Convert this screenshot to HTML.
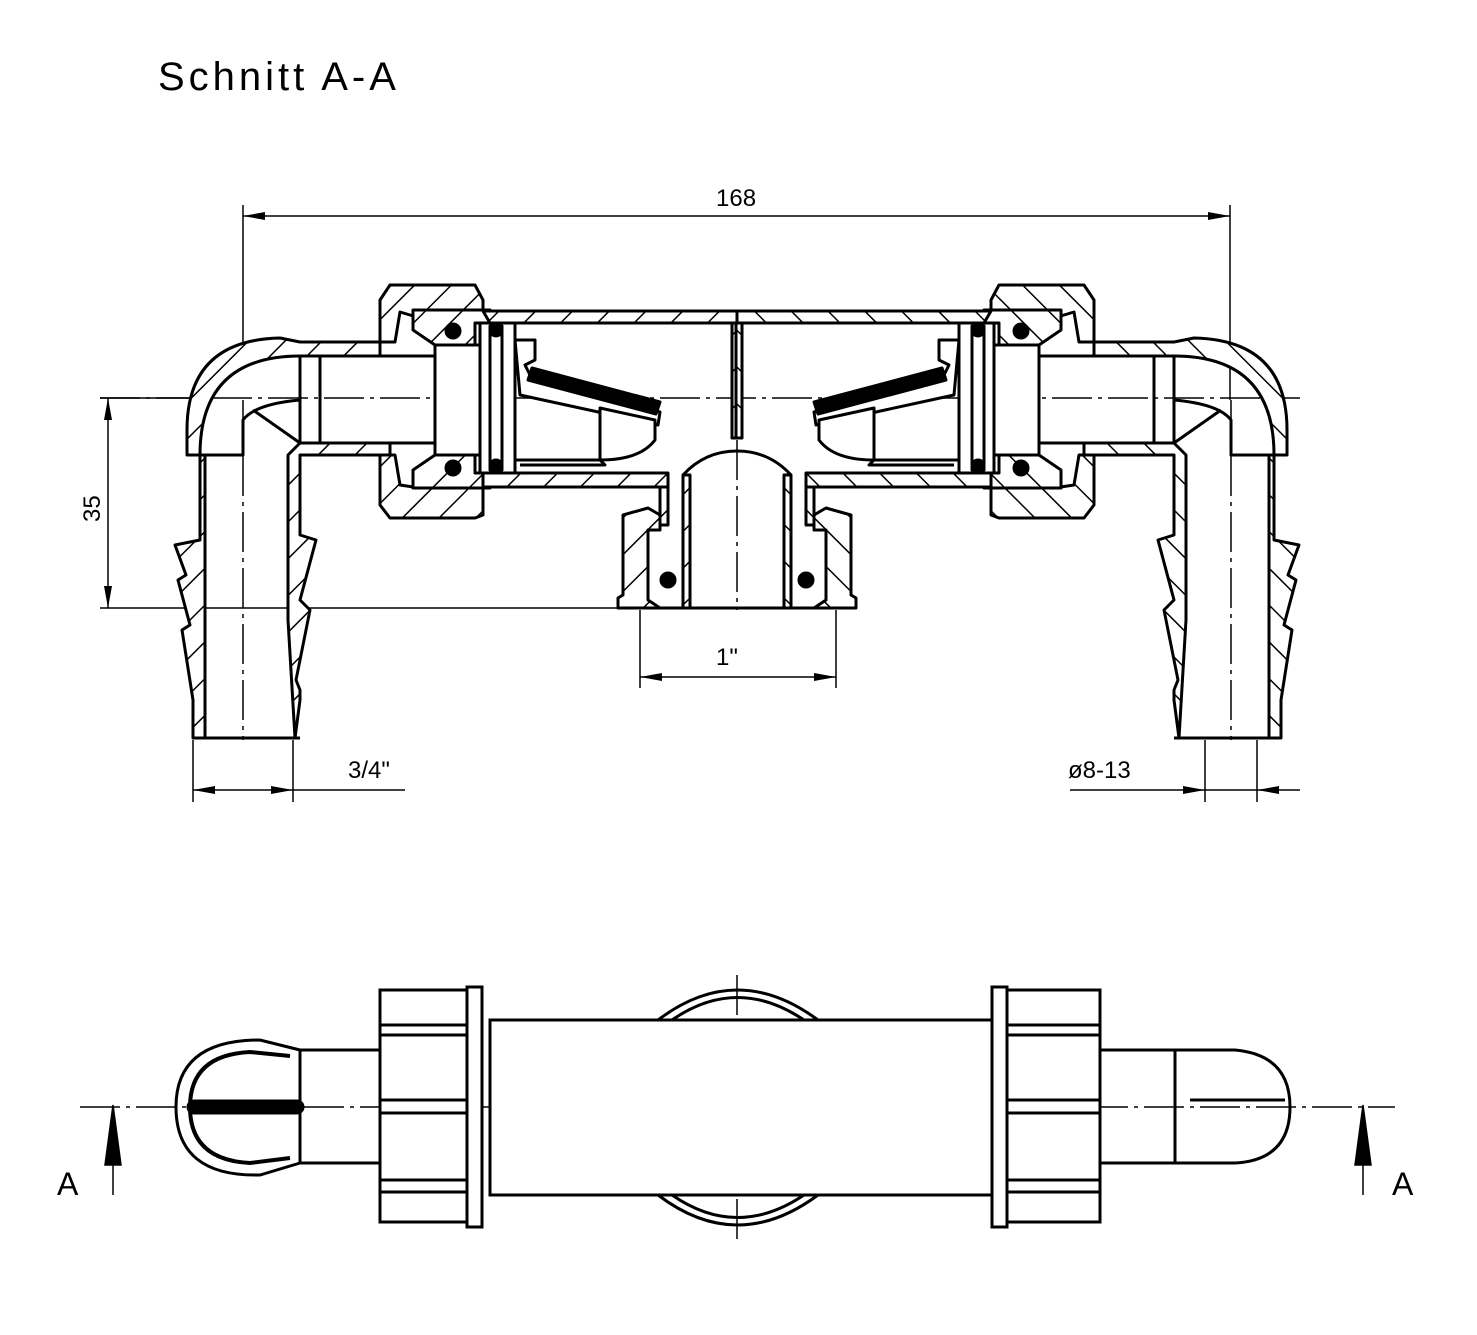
<!DOCTYPE html>
<html><head><meta charset="utf-8"><style>
html,body{margin:0;padding:0;background:#fff}
svg{display:block}
text{font-family:"Liberation Sans",sans-serif;fill:#000}
</style></head><body>
<svg width="1477" height="1335" viewBox="0 0 1477 1335" xmlns="http://www.w3.org/2000/svg">
<defs>
<pattern id="h" patternUnits="userSpaceOnUse" width="26" height="26" patternTransform="rotate(45)">
<rect width="26" height="26" fill="#fff"/><line x1="0" y1="0" x2="0" y2="26" stroke="#000" stroke-width="3"/>
</pattern>
</defs>
<text x="158" y="90" font-size="40" letter-spacing="4">Schnitt  A-A</text>

<g stroke="#000" stroke-width="1.5" stroke-dasharray="40,6,4,6" fill="none">
<line x1="100" y1="398" x2="1300" y2="398"/>
<line x1="737" y1="440" x2="737" y2="610"/>
<line x1="80" y1="1107" x2="1395" y2="1107"/>
<line x1="737" y1="975" x2="737" y2="1240"/>
<line x1="243" y1="400" x2="243" y2="740"/>
<line x1="1231" y1="400" x2="1231" y2="740"/>
</g>

<g stroke="#000" stroke-width="1.5" fill="none">
<line x1="243" y1="205" x2="243" y2="345"/>
<line x1="1230" y1="205" x2="1230" y2="400"/>
<line x1="243" y1="216" x2="1230" y2="216"/>
<line x1="100" y1="398" x2="190" y2="398"/>
<line x1="100" y1="608" x2="640" y2="608"/>
<line x1="108" y1="398" x2="108" y2="608"/>
<line x1="640" y1="610" x2="640" y2="688"/>
<line x1="836" y1="610" x2="836" y2="688"/>
<line x1="640" y1="677" x2="836" y2="677"/>
<line x1="193" y1="740" x2="193" y2="802"/>
<line x1="293" y1="740" x2="293" y2="802"/>
<line x1="193" y1="790" x2="405" y2="790"/>
<line x1="1205" y1="740" x2="1205" y2="802"/>
<line x1="1257" y1="740" x2="1257" y2="802"/>
<line x1="1070" y1="790" x2="1300" y2="790"/>
</g>
<g fill="#000">
<polygon points="243,216 265,212 265,220"/><polygon points="1230,216 1208,212 1208,220"/>
<polygon points="108,398 104,420 112,420"/><polygon points="108,608 104,586 112,586"/>
<polygon points="640,677 662,673 662,681"/><polygon points="836,677 814,673 814,681"/>
<polygon points="193,790 215,786 215,794"/><polygon points="293,790 271,786 271,794"/>
<polygon points="1205,790 1183,786 1183,794"/><polygon points="1257,790 1279,786 1279,794"/>
</g>
<text x="716" y="206" font-size="24">168</text>
<text x="0" y="0" font-size="24" transform="translate(100,522) rotate(-90)">35</text>
<text x="716" y="665" font-size="24">1"</text>
<text x="348" y="778" font-size="24">3/4"</text>
<text x="1068" y="778" font-size="24">ø8-13</text>

<g id="L" stroke="#000" stroke-width="3" stroke-linejoin="round">
<path fill="url(#h)" d="M187,455 L187,430 Q187,340 280,338 L300,342 L380,342 L380,356 L300,356 Q200,356 200,455 L200,540 L175,545 L186,575 L178,580 L190,625 L182,630 L193,700 L193,738 L205,738 L205,455 Z"/>
<path fill="url(#h)" d="M288,455 L288,620 L295,738 L300,700 L300,690 L296,680 L310,610 L300,600 L316,540 L300,535 L300,455 L390,455 L390,443 L300,443 Z"/>
<path fill="none" d="M200,455 L243,455 L243,420 Q255,404 300,400 L300,356 M253,410 L300,443 M193,738 L300,738"/>
<line x1="300" y1="356" x2="300" y2="443"/>
<line x1="320" y1="356" x2="320" y2="443"/>
<line x1="320" y1="356" x2="435" y2="356"/>
<line x1="320" y1="443" x2="435" y2="443"/>
<path fill="url(#h)" d="M380,300 L390,285 L475,285 L483,300 L483,318 L420,318 L400,312 L395,342 L380,342 Z"/>
<path fill="url(#h)" d="M380,455 L395,455 L400,485 L420,488 L483,488 L483,515 L475,518 L390,518 L380,505 Z"/>
<path fill="url(#h)" d="M413,310 L490,310 L490,323 L475,323 L475,345 L435,345 L413,330 Z"/>
<path fill="url(#h)" d="M413,470 L435,455 L475,455 L475,473 L490,473 L490,488 L413,488 Z"/>
<rect x="435" y="345" width="45" height="110" fill="#fff"/>
<circle cx="453" cy="331" r="7" fill="#000"/>
<circle cx="453" cy="468" r="7" fill="#000"/>
<rect x="480" y="323" width="35" height="150" fill="#fff"/>
<rect x="490" y="326" width="12" height="144" fill="#fff"/>
<circle cx="496" cy="330" r="6" fill="#000"/><circle cx="496" cy="466" r="6" fill="#000"/>
<path fill="url(#h)" d="M483,311 L737,311 L737,323 L490,323 Z"/>
<path fill="url(#h)" d="M483,473 L668,473 L668,487 L483,487 Z"/>
<path fill="#fff" d="M515,340 L535,340 L535,360 L525,365 L530,375 L660,412 L658,425 L520,395 Z"/>
<path fill="#000" d="M532,368 L660,402 L656,414 L528,380 Z"/>
<path fill="#fff" d="M600,408 L655,420 L655,440 Q640,460 600,460 Z"/>
<path fill="none" d="M515,460 L600,460 L605,465 L520,465"/>
<rect x="732" y="323" width="6" height="115" fill="url(#h)"/>
<path fill="none" d="M683,475 Q705,451 737,451"/>
<rect x="683" y="475" width="7" height="133" fill="url(#h)"/>
<path fill="url(#h)" d="M660,487 L668,487 L668,525 L660,525 Z"/>
<path fill="url(#h)" d="M623,515 L648,508 L660,515 L660,530 L648,530 L648,600 L660,608 L618,608 L618,598 L623,595 Z"/>
<circle cx="668" cy="580" r="7" fill="#000"/>
<line x1="618" y1="608" x2="737" y2="608"/>
</g>
<use href="#L" transform="translate(1474,0) scale(-1,1)"/>

<g stroke="#000" stroke-width="3" fill="none">
<rect x="490" y="1020" width="505" height="175" fill="#fff"/>
<path d="M658,1020 Q737,960 818,1020"/>
<path d="M672,1020 Q737,975 804,1020"/>
<path d="M658,1195 Q737,1255 818,1195"/>
<path d="M672,1195 Q737,1240 804,1195"/>
<path d="M300,1050 L260,1040 Q176,1040 176,1107 Q176,1177 260,1175 L300,1163"/>
<path d="M290,1056 L250,1052 Q190,1055 190,1107 Q190,1160 250,1163 L290,1158" stroke-width="4"/>
<rect x="300" y="1050" width="80" height="113"/>
<rect x="188" y="1101" width="115" height="12" rx="6" fill="#000"/>
<rect x="380" y="990" width="88" height="232" fill="#fff"/>
<rect x="467" y="987" width="15" height="240" fill="#fff"/>
<line x1="380" y1="1025" x2="467" y2="1025"/><line x1="380" y1="1035" x2="467" y2="1035"/>
<line x1="380" y1="1100" x2="467" y2="1100"/><line x1="380" y1="1113" x2="467" y2="1113"/>
<line x1="380" y1="1180" x2="467" y2="1180"/><line x1="380" y1="1192" x2="467" y2="1192"/>
<rect x="1007" y="990" width="93" height="232" fill="#fff"/>
<rect x="992" y="987" width="15" height="240" fill="#fff"/>
<line x1="1007" y1="1025" x2="1100" y2="1025"/><line x1="1007" y1="1035" x2="1100" y2="1035"/>
<line x1="1007" y1="1100" x2="1100" y2="1100"/><line x1="1007" y1="1113" x2="1100" y2="1113"/>
<line x1="1007" y1="1180" x2="1100" y2="1180"/><line x1="1007" y1="1192" x2="1100" y2="1192"/>
<rect x="1100" y="1050" width="75" height="113"/>
<path d="M1175,1050 L1235,1050 Q1290,1055 1290,1107 Q1290,1160 1235,1163 L1175,1163" />
<line x1="1190" y1="1100" x2="1285" y2="1100"/>
</g>
<g fill="#000" stroke="#000" stroke-width="1.5">
<line x1="113" y1="1130" x2="113" y2="1195"/><polygon points="113,1105 105,1165 121,1165"/>
<line x1="1363" y1="1130" x2="1363" y2="1195"/><polygon points="1363,1105 1355,1165 1371,1165"/>
</g>
<text x="57" y="1195" font-size="32">A</text>
<text x="1392" y="1195" font-size="32">A</text>
</svg>
</body></html>
